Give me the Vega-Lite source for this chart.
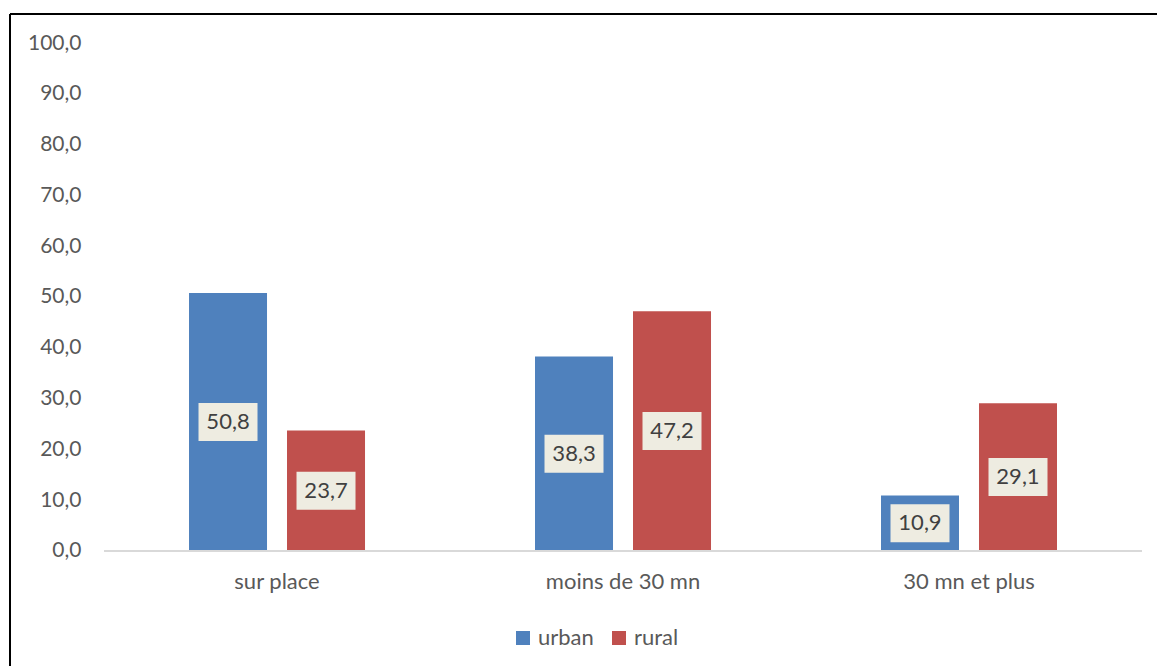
{
  "$schema": "https://vega.github.io/schema/vega-lite/v6.json",
  "width": 1147,
  "height": 652,
  "autosize": {"type": "none"},
  "padding": {"left": 10, "top": 14, "right": 0, "bottom": 0},
  "background": "white",
  "config": {
    "font": "Lato",
    "locale": {"number": {"decimal": ",", "thousands": " ", "grouping": [3], "currency": ["", " €"]}},
    "view": {"stroke": "#000000", "strokeWidth": 2, "strokeDash": [1147, 1799, 652, 0]},
    "axis": {"labelFont": "Lato"},
    "legend": {"labelFont": "Lato"}
  },
  "data": {
    "values": [
      {"lieu": "sur place", "milieu": "urban", "value": 50.8},
      {"lieu": "sur place", "milieu": "rural", "value": 23.7},
      {"lieu": "moins de 30 mn", "milieu": "urban", "value": 38.3},
      {"lieu": "moins de 30 mn", "milieu": "rural", "value": 47.2},
      {"lieu": "30 mn et plus", "milieu": "urban", "value": 10.9},
      {"lieu": "30 mn et plus", "milieu": "rural", "value": 29.1}
    ]
  },
  "resolve": {"scale": {"y": "independent"}},
  "layer": [
    {
      "layer": [
        {
          "mark": {"type": "bar", "strokeWidth": 0},
          "encoding": {
            "x": {
              "field": "lieu", "type": "nominal",
              "sort": ["sur place", "moins de 30 mn", "30 mn et plus"],
              "scale": {"paddingInner": 0.4913, "paddingOuter": 0.4032, "align": 0.6416},
              "axis": {"title": null, "labelAngle": 0, "domain": false, "ticks": false, "tickSize": 0, "labelPadding": 11, "offset": -106, "labelFontSize": 22, "labelColor": "#595959", "grid": false}
            },
            "xOffset": {"field": "milieu", "type": "nominal", "sort": ["urban", "rural"], "scale": {"paddingInner": 0.204, "paddingOuter": 0}},
            "y": {
              "field": "value", "type": "quantitative",
              "scale": {"domain": [-22.64, 105.71], "nice": false, "zero": false},
              "axis": {"title": null, "values": [0, 10, 20, 30, 40, 50, 60, 70, 80, 90, 100], "format": ".1f", "domain": false, "ticks": false, "tickSize": 0, "grid": false, "labelPadding": 0, "offset": -71, "labelFontSize": 21, "labelColor": "#595959"}
            },
            "y2": {"datum": 0},
            "color": {
              "field": "milieu", "type": "nominal",
              "scale": {"domain": ["urban", "rural"], "range": ["#4F81BD", "#C0504D"]},
              "legend": {"orient": "none", "legendX": 502, "legendY": 613, "direction": "horizontal", "title": null, "symbolType": "square", "symbolSize": 196, "symbolStrokeWidth": 0, "symbolOpacity": 1, "labelFontSize": 22, "labelColor": "#595959", "labelOffset": 4, "columnPadding": 14, "padding": 0}
            }
          }
        },
        {
          "data": {"values": [{"k": 1}]},
          "mark": {"type": "rule", "color": "#D9D9D9", "strokeWidth": 2},
          "encoding": {
            "x": {"datum": "sur place", "bandPosition": -0.483},
            "x2": {"datum": "30 mn et plus", "bandPosition": 1.483},
            "y": {"datum": 0}
          }
        }
      ]
    },
    {
      "encoding": {
        "x": {
          "field": "lieu", "type": "nominal",
          "sort": ["sur place", "moins de 30 mn", "30 mn et plus"]
        },
        "xOffset": {"field": "milieu", "type": "nominal", "sort": ["urban", "rural"]},
        "y": {"field": "value", "type": "quantitative", "scale": {"domain": [-45.28, 211.42], "nice": false, "zero": false}, "axis": null}
      },
      "layer": [
        {"mark": {"type": "point", "shape": "M-1,-0.644H1V0.644H-1Z", "size": 3481, "filled": true, "fill": "#EEECE1", "opacity": 1, "strokeWidth": 0}},
        {"mark": {"type": "text", "color": "#404040", "fontSize": 22, "baseline": "middle", "align": "center"},
         "encoding": {"text": {"field": "value", "type": "quantitative", "format": ".1f"}}}
      ]
    }
  ]
}
